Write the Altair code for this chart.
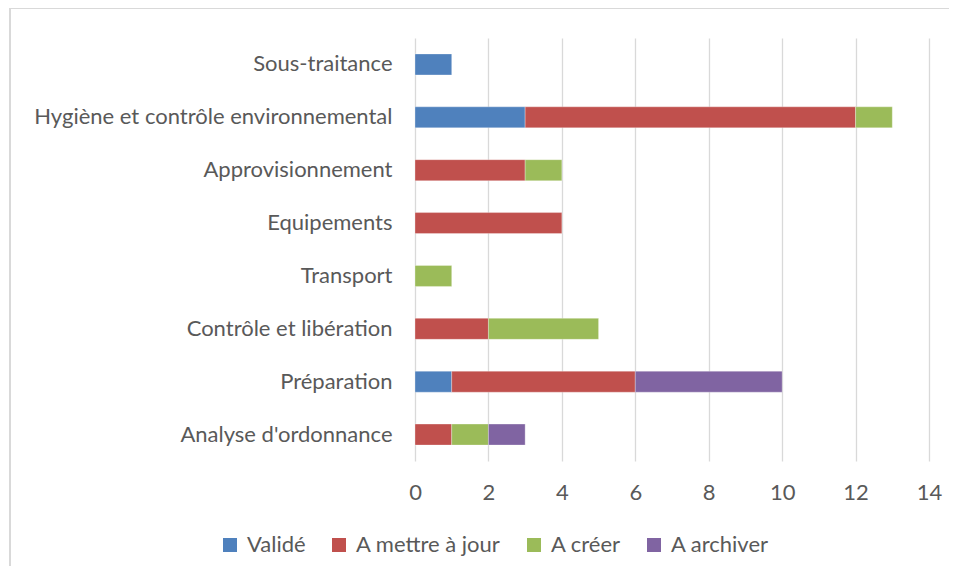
import altair as alt
import pandas as pd

categories = ["Sous-traitance", "Hygiène et contrôle environnemental", "Approvisionnement",
              "Equipements", "Transport", "Contrôle et libération", "Préparation",
              "Analyse d'ordonnance"]
series = ["Validé", "A mettre à jour", "A créer", "A archiver"]
colors = ["#4F81BD", "#C0504D", "#9BBB59", "#8064A2"]
valide = [1, 3, 0, 0, 0, 0, 1, 0]
a_mettre = [0, 9, 3, 4, 0, 2, 5, 1]
a_creer = [0, 1, 1, 0, 1, 3, 0, 1]
a_archiver = [0, 0, 0, 0, 0, 0, 4, 1]
x_ticks = [0, 2, 4, 6, 8, 10, 12, 14]

rows = []
for s_i, vals in enumerate([valide, a_mettre, a_creer, a_archiver]):
    for c, v in zip(categories, vals):
        if v > 0:
            rows.append({"cat": c, "serie": series[s_i], "val": v, "ord": s_i})
df = pd.DataFrame(rows)

FONT = "Lato"
FS = 22
bars = alt.Chart(df).mark_bar(size=21, stroke="white", strokeWidth=0.5, strokeOpacity=0.6).encode(
    y=alt.Y("cat:N", sort=categories, title=None,
            axis=alt.Axis(labelPadding=23, ticks=False, domain=False, grid=False,
                          labelFontSize=FS, labelColor="#595959", labelFont=FONT,
                          labelLimit=600)),
    x=alt.X("val:Q", stack="zero", title=None,
            scale=alt.Scale(domain=[0, 14], nice=False),
            axis=alt.Axis(values=x_ticks, ticks=False, domain=False, grid=True,
                          labelFlush=False, labelOverlap=False,
                          gridColor="#D9D9D9", gridWidth=1.3, labelPadding=21,
                          labelFontSize=FS, labelColor="#595959", labelFont=FONT)),
    color=alt.Color("serie:N", sort=series,
                    scale=alt.Scale(domain=series, range=colors),
                    legend=alt.Legend(title=None, orient="none", direction="horizontal",
                                      legendX=-196, legendY=496,
                                      symbolType="square", symbolSize=196,
                                      symbolStrokeWidth=0, labelFontSize=FS,
                                      labelColor="#595959", labelFont=FONT,
                                      columnPadding=22, labelOffset=6)),
    order=alt.Order("ord:Q"),
)

border_top = alt.Chart(df).mark_rule(color="#D9D9D9", strokeWidth=1.5).encode(
    x=alt.value(-405), x2=alt.value(700), y=alt.value(-30))
border_left = alt.Chart(df).mark_rule(color="#D9D9D9", strokeWidth=1.5).encode(
    x=alt.value(-405), y=alt.value(-30), y2=alt.value(700))

chart = alt.layer(border_top, border_left, bars).properties(
    width=514, height=423,
    padding={"left": 407, "top": 30, "right": 20, "bottom": 105},
    autosize=alt.AutoSizeParams(type="none"),
).configure_view(stroke=None).configure_scale(bandPaddingInner=0.6)

chart.save("out.html", embed_options={"renderer": "svg", "actions": False})
